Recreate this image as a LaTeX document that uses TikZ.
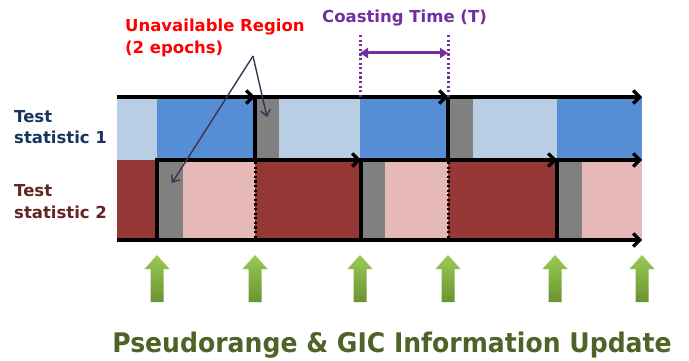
\documentclass[tikz,border=0pt]{standalone}
\usepackage{fontspec}
\setmainfont{DejaVu Sans}
\newfontfamily\updfont[FakeStretch=0.93]{DejaVu Sans}
\usepackage{tikz}
\usetikzlibrary{arrows.meta}
\definecolor{ltblue}{HTML}{B9CDE5}
\definecolor{dkblue}{HTML}{558ED5}
\definecolor{dkred}{HTML}{953735}
\definecolor{ltred}{HTML}{E6B9B8}
\definecolor{unav}{HTML}{808080}
\definecolor{coast}{HTML}{7030A0}
\definecolor{callout}{HTML}{403152}
\definecolor{lblone}{HTML}{17375E}
\definecolor{lbltwo}{HTML}{632523}
\definecolor{updtxt}{HTML}{4F6228}
\definecolor{grtop}{HTML}{9BCB52}
\definecolor{grbot}{HTML}{6A9232}

\begin{document}
\begin{tikzpicture}[x=1pt, y=-1pt,
    tl/.style={line width=3.2pt, -{Straight Barb[length=6.5pt,width=13pt]}},
    sep/.style={line width=3.2pt, line cap=rect},
    dots/.style={line width=3pt, dash pattern=on 2.2pt off 2.4pt},
    lbl/.style={anchor=north west, inner sep=0pt, align=left,
      font=\fontsize{16.5}{21.5}\selectfont\bfseries}]
  \useasboundingbox (0,0) rectangle (689,361);
  % test statistic 1: blocks
  \foreach \a/\b/\c in {117/157/ltblue, 157/255/dkblue, 255/279/unav, 279/360/ltblue,
      360/448/dkblue, 448/473/unav, 473/557/ltblue, 557/642/dkblue}
    \fill[\c] (\a,97) rectangle (\b,160);
  % test statistic 2: blocks
  \foreach \a/\b/\c in {117/157/dkred, 157/183/unav, 183/255/ltred, 255/361/dkred,
      361/385/unav, 385/448/ltred, 448/557/dkred, 557/582/unav, 582/642/ltred}
    \fill[\c] (\a,160) rectangle (\b,240);
  % epoch boundaries
  \foreach \x in {255,448} { \draw[sep] (\x,97) -- (\x,160); \draw[dots] (\x,162) -- (\x,240); }
  \foreach \x in {157,361,557} \draw[sep] (\x,160) -- (\x,240);
  % time axes
  \foreach \a/\b in {117/255, 255/448, 448/642} \draw[tl] (\a,97) -- (\b,97);
  \foreach \a/\b in {157/361, 361/557, 557/642} \draw[tl] (\a,160) -- (\b,160);
  \draw[tl] (117,240) -- (642,240);
  % coasting time
  \node[lbl, text=coast] (coastlbl) at (322,9.5) {Coasting Time (T)};
  \coordinate (cs) at (360,53);
  \coordinate (ce) at (448,53);
  \foreach \x in {360,448} \draw[coast, dots] (\x,35) -- (\x,99);
  \draw[coast, line width=3pt, {Triangle[length=8pt,width=10pt]}-{Triangle[length=8pt,width=10pt]}] (cs) -- (ce);
  % unavailable region callout
  \node[lbl, text=red] (unavlbl) at (125,19) {Unavailable Region\\(2 epochs)};
  \coordinate (apex) at (253,56);
  \coordinate (gone) at (267,117);
  \coordinate (gtwo) at (172,183);
  \foreach \g in {gone,gtwo}
    \draw[callout, line width=1.4pt, -{Straight Barb[length=6pt,width=10pt]}] (apex) -- (\g);
  % row labels
  \node[lbl, text=lblone] (ts1) at (14,110) {Test\\statistic 1};
  \node[lbl, text=lbltwo] (ts2) at (14,184.5) {Test\\statistic 2};
  % update instants
  \foreach \x in {157,255,360,448,555,642}
    \shade[top color=grtop, bottom color=grbot] (\x,255) -- (\x+12.5,269) -- (\x+6.5,269)
      -- (\x+6.5,302) -- (\x-6.5,302) -- (\x-6.5,269) -- (\x-12.5,269) -- cycle;
  \node[anchor=base, inner sep=0pt, text=updtxt, font=\updfont\fontsize{27}{30}\selectfont\bfseries] (upd)
    at (392,352) {Pseudorange \& GIC Information Update};
\end{tikzpicture}
\end{document}
